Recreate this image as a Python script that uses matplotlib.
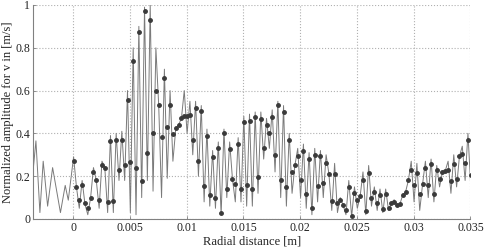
import numpy as np
import matplotlib
matplotlib.use("Agg")
import matplotlib.pyplot as plt
from matplotlib.ticker import FuncFormatter

plt.rcParams['font.family'] = ['Liberation Serif', 'DejaVu Serif']

# Sample grid of the measured points (m)
sample_start = 0.00003
sample_step = 0.00025

# Measured amplitudes (markers)
marker_y = [
    0.27, 0.15, 0.09, 0.16, 0.075, 0.05, 0.10, 0.22, 0.18, 0.09,
    0.25, 0.24, 0.08, 0.365, 0.086, 0.37, 0.23, 0.37, 0.25, 0.557,
    0.264, 0.738, 0.24, 0.872, 0.178, 0.972, 0.307, 0.93, 0.40, 0.60,
    0.532, 0.384, 0.657, 0.43, 0.534, 0.395, 0.423, 0.44, 0.47, 0.482,
    0.48, 0.485, 0.37, 0.517, 0.27, 0.504, 0.156, 0.386, 0.11, 0.29,
    0.097, 0.33, 0.03, 0.40, 0.14, 0.326, 0.186, 0.165, 0.35, 0.142,
    0.454, 0.158, 0.457, 0.142, 0.476, 0.197, 0.467, 0.33, 0.44, 0.404,
    0.476, 0.30, 0.532, 0.18, 0.498, 0.148, 0.37, 0.22, 0.25, 0.293,
    0.18, 0.32, 0.116, 0.28, 0.05, 0.298, 0.153, 0.293, 0.166, 0.262,
    0.212, 0.084, 0.212, 0.075, 0.088, 0.064, 0.041, 0.15, 0.014, 0.12,
    0.088, 0.106, 0.18, 0.037, 0.215, 0.10, 0.126, 0.075, 0.111, 0.049,
    0.119, 0.053, 0.075, 0.08, 0.064, 0.069, 0.112, 0.126, 0.18, 0.231,
    0.158, 0.215, 0.119, 0.162, 0.236, 0.158, 0.256, 0.116, 0.228, 0.189,
    0.22, 0.225, 0.231, 0.176, 0.259, 0.189, 0.293, 0.306, 0.262, 0.368,
    0.204,
]

# Fitted curve extremes on the same grid
curve_y = [
    0.29, 0.15, 0.05, 0.18, 0.07, 0.02, 0.10, 0.24, 0.18, 0.05,
    0.27, 0.24, 0.03, 0.39, 0.03, 0.40, 0.18, 0.41, 0.18, 0.60,
    0.03, 0.80, 0.02, 0.90, 0.10, 0.99, 0.18, 1.00, 0.13, 0.80,
    0.53, 0.10, 0.70, 0.19, 0.60, 0.27, 0.42, 0.44, 0.47, 0.60,
    0.40, 0.55, 0.30, 0.55, 0.20, 0.53, 0.08, 0.42, 0.06, 0.32,
    0.05, 0.36, 0.02, 0.42, 0.10, 0.36, 0.186, 0.08, 0.38, 0.08,
    0.48, 0.06, 0.49, 0.06, 0.50, 0.12, 0.50, 0.28, 0.47, 0.33,
    0.51, 0.22, 0.55, 0.10, 0.53, 0.06, 0.40, 0.12, 0.25, 0.33,
    0.10, 0.35, 0.05, 0.31, 0.02, 0.33, 0.08, 0.32, 0.10, 0.30,
    0.21, 0.04, 0.26, 0.03, 0.10, 0.064, 0.02, 0.18, 0.01, 0.15,
    0.05, 0.106, 0.22, 0.02, 0.25, 0.06, 0.15, 0.04, 0.14, 0.03,
    0.14, 0.04, 0.075, 0.09, 0.06, 0.069, 0.112, 0.126, 0.18, 0.27,
    0.08, 0.26, 0.04, 0.162, 0.27, 0.10, 0.28, 0.08, 0.25, 0.15,
    0.22, 0.225, 0.27, 0.12, 0.30, 0.15, 0.293, 0.34, 0.18, 0.40,
    0.15,
]

# Curve before the first measured point
lead_x = [-0.00355, -0.00329, -0.00294, -0.00265, -0.00226, -0.00182,
          -0.00113, -0.00071, -0.00044]
lead_y = [0.22, 0.365, 0.03, 0.27, 0.06, 0.24, 0.03, 0.157, 0.088]

xticks = [0, 0.005, 0.01, 0.015, 0.02, 0.025, 0.03, 0.035]
yticks = [0, 0.2, 0.4, 0.6, 0.8, 1.0]

grid_x = sample_start + sample_step * np.arange(len(marker_y))
curve_x = np.concatenate([lead_x, grid_x])
curve_all = np.concatenate([lead_y, curve_y])

fig = plt.figure(figsize=(4.85, 2.49), dpi=100)
ax = fig.add_axes([0.068, 0.1205, 0.902, 0.8595])

ax.plot(curve_x, curve_all, color='#7a7a7a', lw=0.7, zorder=2)
ax.plot(grid_x, marker_y, ls='none', marker='o', ms=2.5,
        mfc='#3a3a3a', mec='#3a3a3a', zorder=3)

ax.set_xlim(-0.00355, 0.035)
ax.set_ylim(0, 1)
ax.set_xticks(xticks)
ax.set_yticks(yticks)
fmt = FuncFormatter(lambda v, p: '%g' % round(v, 6))
ax.xaxis.set_major_formatter(fmt)
ax.yaxis.set_major_formatter(fmt)

ax.grid(True, ls=':', color='#b0b0b0', lw=0.8)
for s in ['top', 'right']:
    ax.spines[s].set_visible(False)
for s in ['left', 'bottom']:
    ax.spines[s].set_color('#808080')
    ax.spines[s].set_linewidth(0.8)
ax.tick_params(direction='in', length=2.5, width=0.6, color='#808080',
               labelsize=8.5, pad=2, labelcolor='#222222')

ax.set_xlabel('Radial distance [m]', fontsize=9, labelpad=1, color='#222222')
ax.set_ylabel('Normalized amplitude for v in [m/s]', fontsize=9, labelpad=1,
              color='#222222')

fig.savefig('out.png', dpi=100)
